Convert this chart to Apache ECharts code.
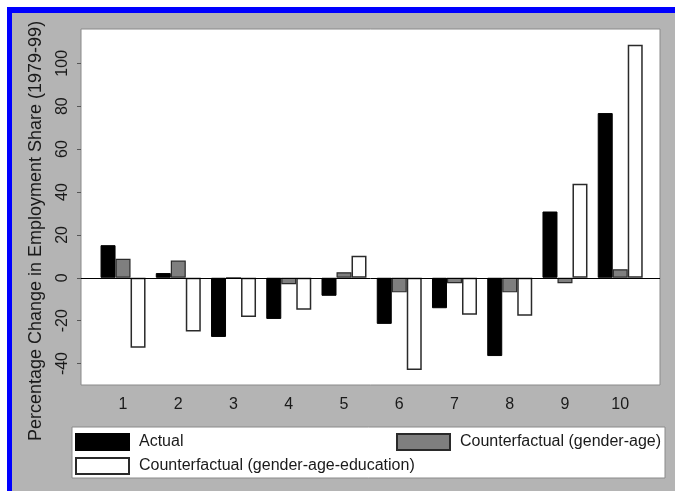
<!DOCTYPE html>
<html>
<head>
<meta charset="utf-8">
<script src="https://cdn.jsdelivr.net/npm/echarts@6/dist/echarts.min.js"></script>
<style>
html,body{margin:0;padding:0;background:#ffffff;}
#chart{width:675px;height:491px;}
</style>
</head>
<body>
<div id="chart"></div>
<script>
var categories = ['1','2','3','4','5','6','7','8','9','10'];
var actual = [15.2, 2.2, -27.6, -19.2, -8.4, -21.5, -14.2, -36.5, 30.9, 76.8];
var cfGenderAge = [8.9, 8.0, 0.0, -3.0, 2.6, -6.8, -2.5, -6.8, -2.5, 4.0];
var cfGenderAgeEdu = [-32.6, -25.0, -18.3, -14.9, 10.3, -43.0, -17.2, -17.7, 43.8, 108.6];
var yTicks = [-40, -20, 0, 20, 40, 60, 80, 100];
var seriesNames = ['Actual', 'Counterfactual (gender-age)', 'Counterfactual (gender-age-education)'];
var yTitle = 'Percentage Change in Employment Share (1979-99)';

var FONT = "'Liberation Sans', Arial, sans-serif";
var TXT = '#1a1a1a';

function pairs(vals) {
  return vals.map(function (v, i) { return [i + 1, v]; });
}
var xPositions = categories.map(function (c, i) { return i + 1; });

var chart = echarts.init(document.getElementById('chart'), null, {renderer: 'canvas'});
var legendBase = {icon: 'rect', itemWidth: 53, itemHeight: 16, padding: 0, selectedMode: false,
  textStyle: {fontSize: 16, color: TXT, padding: [0, 0, 0, 5]}};
function mkLegend(name, left, top) {
  return Object.assign({}, legendBase, {data: [name], left: left, top: top});
}
var option = {
  animation: false,
  backgroundColor: '#b4b4b4',
  textStyle: {fontFamily: FONT},
  graphic: [
    {type: 'rect', shape: {x: 7, y: 7, width: 668, height: 6}, style: {fill: '#0000ff'}, z: 10},
    {type: 'rect', shape: {x: 7, y: 7, width: 5, height: 484}, style: {fill: '#0000ff'}, z: 10},
    {type: 'rect', shape: {x: 0, y: 0, width: 675, height: 7}, style: {fill: '#ffffff'}, z: 10},
    {type: 'rect', shape: {x: 0, y: 0, width: 7, height: 491}, style: {fill: '#ffffff'}, z: 10},
    {type: 'rect', shape: {x: 72, y: 427, width: 593, height: 51},
     style: {fill: '#ffffff', stroke: '#8a8a8a', lineWidth: 1}, z: 0},
    {type: 'text', x: 36, y: 231, rotation: Math.PI / 2,
     style: {text: yTitle, fill: TXT, font: '18px ' + FONT, textAlign: 'center', textVerticalAlign: 'middle'}}
  ],
  grid: {left: 81, right: 15, top: 29, bottom: 106, show: true, backgroundColor: '#ffffff',
         borderColor: '#8a8a8a', borderWidth: 1},
  xAxis: {
    type: 'value', min: 0.239, max: 10.72,
    axisLine: {show: false}, axisTick: {show: false}, splitLine: {show: false},
    axisLabel: {customValues: xPositions, color: TXT, fontSize: 16, margin: 12,
      formatter: function (v) { return categories[Math.round(v) - 1]; }}
  },
  yAxis: {
    type: 'value', min: -50, max: 116,
    axisLine: {show: false},
    splitLine: {show: false},
    axisTick: {show: true, customValues: yTicks, length: 4, lineStyle: {color: '#555'}},
    axisLabel: {customValues: yTicks, rotate: 90, color: TXT, fontSize: 16, margin: 10}
  },
  legend: [
    mkLegend(seriesNames[0], 75, 433),
    mkLegend(seriesNames[1], 396, 433),
    mkLegend(seriesNames[2], 75, 457)
  ],
  series: [
    {name: seriesNames[0], type: 'bar', data: pairs(actual), barWidth: 15, barGap: '0%',
     itemStyle: {color: '#000000', borderColor: '#000000', borderWidth: 1},
     markLine: {silent: true, symbol: 'none', label: {show: false},
       lineStyle: {color: '#000000', width: 1, type: 'solid'}, data: [{yAxis: 0}]}},
    {name: seriesNames[1], type: 'bar', data: pairs(cfGenderAge), barWidth: 15, barGap: '0%',
     itemStyle: {color: '#7f7f7f', borderColor: '#2a2a2a', borderWidth: 1.2}},
    {name: seriesNames[2], type: 'bar', data: pairs(cfGenderAgeEdu), barWidth: 15, barGap: '0%',
     itemStyle: {color: '#ffffff', borderColor: '#2a2a2a', borderWidth: 1.5}}
  ]
};
chart.setOption(option);
</script>
</body>
</html>
